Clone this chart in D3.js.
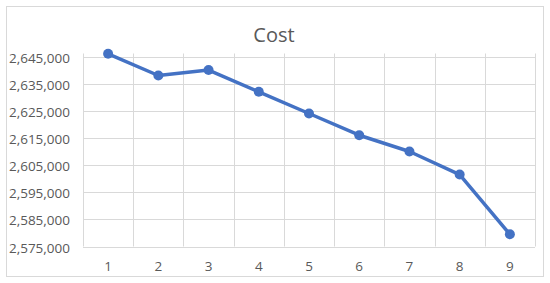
<!DOCTYPE html>
<html>
<head>
<meta charset="utf-8">
<script src="https://cdn.jsdelivr.net/npm/d3@7"></script>
<style>
  body { margin: 0; background: #fff; }
  text { font-family: "Open Sans", sans-serif; fill: #595959; }
</style>
</head>
<body>
<div id="chart"></div>
<script>
// values
var categories = ["1", "2", "3", "4", "5", "6", "7", "8", "9"];
var costValues = [2646000, 2638000, 2640000, 2632000, 2624000, 2616000, 2610000, 2601500, 2579500];
var yTicks = [2575000, 2585000, 2595000, 2605000, 2615000, 2625000, 2635000, 2645000];

var width = 550, height = 283;
var margin = {top: 56.5, right: 15, bottom: 36.5, left: 83};

var svg = d3.select("#chart").append("svg")
  .attr("width", width)
  .attr("height", height);

// chart area border
svg.append("rect")
  .attr("x", 6.5).attr("y", 6.5)
  .attr("width", 537).attr("height", 270)
  .style("fill", "#fff")
  .style("stroke", "#d9d9d9")
  .style("stroke-width", 1);

var x = d3.scaleBand()
  .domain(categories)
  .range([margin.left, width - margin.right]);

var y = d3.scaleLinear()
  .domain([2575000, 2645000])
  .range([height - margin.bottom, margin.top]);

// horizontal gridlines
svg.append("g").selectAll("line")
  .data(yTicks)
  .enter().append("line")
  .attr("x1", x.range()[0])
  .attr("x2", x.range()[1])
  .attr("y1", function(d) { return Math.round(y(d)) + 0.5; })
  .attr("y2", function(d) { return Math.round(y(d)) + 0.5; })
  .style("stroke", "#d9d9d9")
  .style("stroke-width", 1);

// vertical gridlines at category boundaries
var bounds = categories.map(function(c) { return x(c); }).concat([x.range()[1]]);
svg.append("g").selectAll("line")
  .data(bounds)
  .enter().append("line")
  .attr("x1", function(d) { return Math.round(d) + 0.5; })
  .attr("x2", function(d) { return Math.round(d) + 0.5; })
  .attr("y1", y.range()[1] - 3)
  .attr("y2", y.range()[0])
  .style("stroke", "#d9d9d9")
  .style("stroke-width", 1);

// y axis labels
var fmt = d3.format(",");
svg.append("g").selectAll("text")
  .data(yTicks)
  .enter().append("text")
  .attr("x", margin.left - 13)
  .attr("y", function(d) { return y(d); })
  .attr("dy", "0.45em")
  .attr("text-anchor", "end")
  .style("font-size", "13.5px")
  .text(function(d) { return fmt(d); });

// x axis labels
svg.append("g").selectAll("text")
  .data(categories)
  .enter().append("text")
  .attr("x", function(d) { return x(d) + x.bandwidth() / 2; })
  .attr("y", y.range()[0] + 24)
  .attr("text-anchor", "middle")
  .style("font-size", "13.5px")
  .text(function(d) { return d; });

// title
svg.append("text")
  .attr("x", 274)
  .attr("y", 42)
  .attr("text-anchor", "middle")
  .style("font-size", "20px")
  .text("Cost");

// the line
var line = d3.line()
  .x(function(d, i) { return x(categories[i]) + x.bandwidth() / 2; })
  .y(function(d) { return y(d); });

svg.append("path")
  .datum(costValues)
  .attr("d", line)
  .style("fill", "none")
  .style("stroke", "#4472c4")
  .style("stroke-width", 3.5)
  .style("stroke-linejoin", "round");

svg.append("g").selectAll("circle")
  .data(costValues)
  .enter().append("circle")
  .attr("cx", function(d, i) { return x(categories[i]) + x.bandwidth() / 2; })
  .attr("cy", function(d) { return y(d); })
  .attr("r", 5)
  .style("fill", "#4472c4");
</script>
</body>
</html>
